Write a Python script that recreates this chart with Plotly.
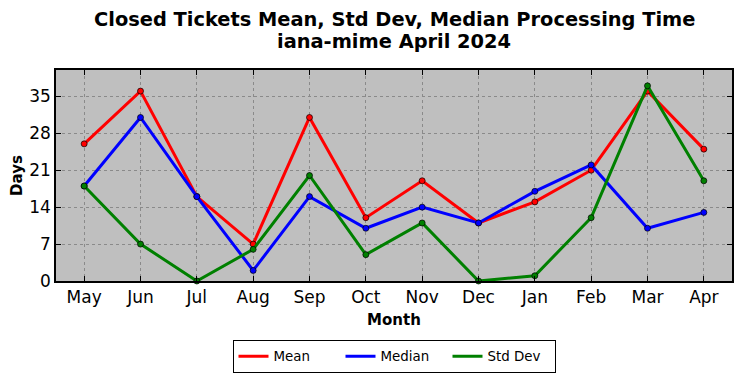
import plotly.graph_objects as go

months = ["May", "Jun", "Jul", "Aug", "Sep", "Oct", "Nov", "Dec", "Jan", "Feb", "Mar", "Apr"]
mean_days = [26, 36, 16, 7, 31, 12, 19, 11, 15, 21, 36, 25]
median_days = [18, 31, 16, 2, 16, 10, 14, 11, 17, 22, 10, 13]
std_days = [18, 7, 0, 6, 20, 5, 11, 0, 1, 12, 37, 19]
y_ticks = [0, 7, 14, 21, 28, 35]
title_lines = ["Closed Tickets Mean, Std Dev, Median Processing Time", "iana-mime April 2024"]

series = [("Mean", mean_days, "#ff0000"), ("Median", median_days, "#0000ff"), ("Std Dev", std_days, "#008000")]

fig = go.Figure()
for name, vals, col in series:
    fig.add_trace(go.Scatter(
        x=list(range(len(months))), y=vals, name=name, mode="lines+markers",
        line=dict(color=col, width=3),
        marker=dict(color=col, size=6, line=dict(color="black", width=0.7)),
        cliponaxis=False, showlegend=False,
    ))
for name, vals, col in series:
    fig.add_trace(go.Scatter(x=[None], y=[None], name=name, mode="lines",
                             line=dict(color=col, width=3), showlegend=True))

# page body has a default 8px margin; offsets compensate for it
OFF = 8
W, H = 742, 378
font = "DejaVu Sans, sans-serif"
axis_common = dict(ticks="inside", ticklen=5, tickcolor="black", tickfont=dict(size=17),
                   showline=True, linecolor="black", linewidth=1.5, mirror="ticks",
                   showgrid=True, gridcolor="#8a8a8a", griddash="dot", gridwidth=1,
                   zeroline=False, automargin=False)
fig.update_layout(
    width=W, height=H,
    margin=dict(l=56 - OFF, r=W - (732 - OFF), t=70 - OFF, b=H - (281 - OFF)),
    paper_bgcolor="white", plot_bgcolor="#bfbfbf",
    font=dict(family=font, color="black"),
    xaxis=dict(range=[-0.5, 11.5], tickvals=list(range(len(months))), ticktext=months,
               title=dict(text="<b>Month</b>", font=dict(size=15), standoff=8), **axis_common),
    yaxis=dict(range=[0, 40], tickvals=y_ticks,
               title=dict(text="<b>Days</b>", font=dict(size=15), standoff=4), **axis_common),
    legend=dict(orientation="h", x=0.5, xref="paper", xanchor="center", y=1 - (340 - OFF) / H,
                yref="container", yanchor="top", bordercolor="black", borderwidth=1,
                font=dict(size=13.4), itemwidth=30, tracegroupgap=0, entrywidth=62),
    showlegend=True,
)
for i, (line, yc) in enumerate(zip(title_lines, [19, 41])):
    fig.add_annotation(text=f"<b>{line}</b>", xref="paper", x=0.5, xanchor="center",
                       yref="paper", y=1 + ((70 - yc)) / (281 - 70), yanchor="middle",
                       showarrow=False, font=dict(size=19.4))
fig.write_html("out.html")
